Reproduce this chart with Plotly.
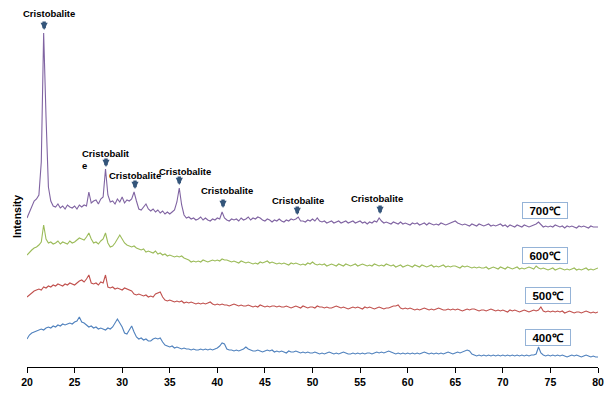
import numpy as np
import plotly.graph_objects as go

# 2-theta sampling grid (degrees), 0.25 deg step from 20 to 80
two_theta = [20 + 0.25 * i for i in range(241)]

# Intensities (arbitrary units, offset-stacked as in the picture), 4 values per degree
i700 = [
    149, 155, 160, 166,  168, 172, 205, 334,  250, 180, 166, 161,  160, 163, 159, 161,
    158, 162, 160, 159,  161, 158, 162, 160,  162, 161, 175, 164,  166, 167, 163, 168,
    170, 198, 172, 165,  166, 163, 168, 165,  170, 164, 167, 166,  168, 175, 166, 158,
    157, 160, 163, 158,  156, 158, 155, 157,  154, 156, 153, 155,  153, 155, 157, 165,
    179, 162, 152, 149,  150, 148, 149, 147,  148, 150, 147, 149,  147, 146, 148, 147,
    149, 148, 155, 149,  147, 146, 148, 147,  148, 146, 149, 147,  148, 150, 147, 149,
    148, 150, 149, 147,  146, 148, 147, 145,  147, 146, 148, 146,  145, 147, 146, 148,
    147, 148, 150, 146,  146, 145, 147, 146,  148, 146, 149, 146,  145, 146, 144, 145,
    146, 144, 145, 146,  144, 145, 146, 144,  145, 146, 144, 145,  146, 144, 145, 143,
    145, 144, 146, 145,  149, 146, 144, 145,  144, 143, 145, 144,  143, 145, 143, 144,
    143, 142, 144, 143,  144, 142, 143, 144,  142, 144, 143, 142,  143, 142, 144, 143,
    142, 143, 144, 145,  146, 144, 143, 142,  143, 142, 141, 143,  142, 141, 143, 142,
    141, 142, 143, 141,  142, 141, 142, 143,  141, 142, 140, 142,  141, 140, 142, 141,
    140, 142, 141, 140,  141, 142, 143, 145,  142, 140, 141, 140,  141, 140, 142, 141,
    140, 141, 139, 141,  140, 141, 140, 139,  141, 140, 141, 140,  139, 141, 140, 140,
    140,
]
i600 = [
    112, 115, 117, 119,  120, 122, 125, 142,  128, 124, 125, 123,  124, 126, 123, 125,
    124, 123, 126, 124,  125, 127, 129, 128,  127, 130, 134, 128,  124, 125, 123, 126,
    128, 134, 124, 120,  121, 124, 128, 132,  128, 124, 122, 121,  120, 121, 119, 118,
    117, 118, 115, 116,  115, 114, 116, 113,  114, 112, 113, 111,  112, 111, 110, 111,
    110, 111, 109, 108,  107, 105, 106, 105,  106, 105, 107, 106,  105, 106, 107, 106,
    107, 106, 108, 107,  107, 106, 105, 106,  105, 104, 106, 105,  104, 105, 104, 103,
    104, 103, 105, 104,  105, 106, 104, 105,  104, 103, 104, 103,  104, 103, 102, 104,
    103, 104, 103, 102,  103, 102, 104, 103,  105, 103, 102, 103,  102, 103, 101, 102,
    103, 102, 101, 103,  102, 101, 103, 102,  101, 102, 103, 101,  102, 103, 102, 101,
    102, 101, 103, 102,  101, 102, 101, 103,  102, 101, 102, 100,  101, 102, 100, 101,
    102, 101, 100, 102,  101, 100, 102, 101,  100, 101, 102, 100,  101, 100, 101, 102,
    100, 101, 100, 101,  101, 100, 99, 101,   100, 101, 100, 99,   100, 99, 100, 99,
    99, 100, 98, 99,     100, 99, 98, 100,    99, 98, 100, 99,     98, 99, 100, 98,
    99, 98, 99, 100,     99, 98, 101, 99,     98, 99, 98, 97,      98, 99, 97, 98,
    99, 98, 97, 98,      97, 98, 99, 97,      98, 97, 98, 99,      97, 98, 97, 98,
    99,
]
i500 = [
    70, 72, 74, 76,  77, 78, 77, 80,  79, 81, 80, 82,  81, 83, 82, 81,
    83, 82, 84, 83,  82, 84, 86, 87,  85, 88, 92, 84,  83, 84, 82, 85,
    84, 92, 80, 79,  80, 78, 79, 78,  77, 79, 78, 77,  76, 73, 72, 73,
    72, 71, 72, 70,  71, 70, 73, 74,  75, 70, 67, 66,  67, 66, 65, 66,
    65, 66, 64, 65,  64, 65, 64, 63,  64, 63, 64, 63,  64, 65, 63, 62,
    63, 62, 63, 62,  62, 61, 62, 63,  62, 61, 62, 61,  61, 62, 61, 60,
    61, 60, 62, 61,  60, 61, 60, 61,  61, 60, 61, 60,  60, 61, 60, 59,
    60, 61, 60, 59,  61, 60, 59, 60,  60, 59, 61, 60,  60, 59, 60, 59,
    59, 60, 61, 60,  59, 60, 59, 58,  59, 60, 59, 60,  59, 58, 60, 59,
    60, 59, 58, 59,  60, 59, 58, 59,  59, 60, 61, 61,  62, 59, 58, 59,
    58, 59, 58, 57,  58, 57, 58, 59,  58, 57, 58, 57,  58, 59, 58, 57,
    57, 58, 57, 58,  57, 58, 57, 56,  57, 58, 57, 58,  58, 57, 56, 57,
    57, 56, 57, 58,  57, 56, 57, 56,  57, 56, 55, 57,  56, 57, 56, 55,
    56, 57, 56, 55,  56, 57, 56, 57,  60, 56, 55, 56,  55, 56, 55, 56,
    55, 56, 54, 55,  56, 55, 54, 55,  55, 54, 55, 56,  55, 54, 55, 54,
    55,
]
i400 = [
    28, 32, 34, 35,  36, 37, 38, 37,  39, 40, 39, 41,  40, 42, 41, 43,
    42, 43, 44, 43,  45, 46, 50, 45,  44, 42, 40, 41,  39, 40, 38, 39,
    38, 37, 39, 38,  40, 44, 48, 44,  40, 34, 33, 37,  41, 35, 30, 28,
    29, 27, 28, 26,  26, 28, 29, 28,  29, 25, 22, 21,  20, 21, 19, 20,
    19, 18, 19, 18,  18, 17, 18, 17,  17, 18, 17, 18,  17, 18, 17, 18,
    19, 21, 24, 23,  18, 17, 17, 16,  17, 16, 17, 18,  20, 18, 17, 16,
    16, 17, 16, 15,  16, 17, 16, 17,  15, 16, 15, 16,  15, 14, 16, 15,
    15, 16, 15, 14,  15, 14, 15, 14,  14, 15, 14, 13,  14, 13, 14, 15,
    14, 13, 14, 13,  14, 15, 14, 13,  13, 14, 13, 14,  13, 14, 13, 14,
    14, 13, 14, 15,  14, 15, 14, 15,  16, 15, 14, 13,  14, 13, 14, 13,
    14, 13, 14, 13,  14, 13, 14, 15,  14, 13, 14, 13,  14, 13, 14, 13,
    14, 15, 14, 13,  14, 15, 14, 15,  16, 17, 16, 13,  12, 11, 12, 11,
    12, 11, 12, 11,  12, 11, 12, 11,  12, 11, 12, 11,  12, 11, 12, 11,
    12, 11, 12, 11,  12, 12, 13, 20,  14, 12, 11, 12,  11, 12, 11, 12,
    11, 12, 11, 10,  11, 12, 11, 12,  11, 10, 11, 12,  11, 10, 11, 10,
    10,
]

series_names = ["700℃", "600℃", "500℃", "400℃"]
series_values = [i700, i600, i500, i400]
series_colors = ["#8064A2", "#9BBB59", "#C0504D", "#4F81BD"]

# Peak markers: 2-theta of peak, arrow tip intensity, label text, label x, label y
peak_pos = [21.8, 28.3, 31.35, 36.0, 40.6, 48.4, 57.1]
peak_tip = [337, 200, 178, 182, 159, 152, 153]
peak_text = ["Cristobalite", "Cristobalit<br>e", "Cristobalite", "Cristobalite",
             "Cristobalite", "Cristobalite", "Cristobalite"]
label_x = [22.35, 28.3, 31.4, 36.65, 41.0, 48.5, 56.8]
label_y = [354, 208, 192, 196, 177, 167, 169]

# Temperature labels (x, y positions in data units)
temp_x = [74.46, 74.46, 74.73, 74.73]
temp_y = [157, 112, 71.5, 29.5]

x_ticks = [20, 25, 30, 35, 40, 45, 50, 55, 60, 65, 70, 75, 80]

fig = go.Figure()
for name, vals, col in zip(series_names, series_values, series_colors):
    fig.add_trace(go.Scatter(x=two_theta, y=vals, mode="lines", name=name,
                             line=dict(color=col, width=1.1), showlegend=False,
                             hoverinfo="skip"))

FONT = "Liberation Sans, Arial, sans-serif"
ann = []
lab_font = dict(family=FONT, size=9.5, color="#000000", weight="bold")
for px_, tip, txt, lx, ly in zip(peak_pos, peak_tip, peak_text, label_x, label_y):
    ann.append(dict(x=px_, y=tip, xref="x", yref="y", text="", showarrow=True,
                    ax=0, ay=-10, arrowhead=2, arrowsize=0.42, arrowwidth=3.4,
                    arrowcolor="#34557a"))
    ann.append(dict(x=lx, y=ly, xref="x", yref="y", text=txt, showarrow=False,
                    align="left", font=lab_font))

for name, tx, ty in zip(series_names, temp_x, temp_y):
    ann.append(dict(x=tx, y=ty, xref="x", yref="y", text=name, showarrow=False,
                    bgcolor="#ffffff", bordercolor="#95b3d7", borderwidth=1, borderpad=1,
                    width=42, height=13,
                    font=dict(family=FONT, size=11.5, color="#000000", weight="bold")))

ann.append(dict(x=0.5, y=-26, xref="paper", yref="y", text="2-theta",
                showarrow=False, xanchor="center", yanchor="middle",
                font=dict(family=FONT, size=10.5, color="#000000", weight="bold")))
ann.append(dict(x=-0.0175, y=150, xref="paper", yref="y", text="Intensity", textangle=-90,
                showarrow=False, xanchor="center", yanchor="middle",
                font=dict(family=FONT, size=10.5, color="#000000", weight="bold")))

fig.update_layout(
    width=614, height=401,
    margin=dict(l=27, r=16, t=10, b=34),
    paper_bgcolor="#ffffff", plot_bgcolor="#ffffff",
    annotations=ann,
    xaxis=dict(range=[20, 80], tickvals=x_ticks, ticktext=[str(t) for t in x_ticks],
               showline=True, linecolor="#000000", linewidth=1,
               ticks="outside", ticklen=5, tickcolor="#000000", tickwidth=1,
               showgrid=False, zeroline=False,
               tickfont=dict(family=FONT, size=10.5, color="#000000", weight="bold")),
    yaxis=dict(range=[0, 357], showticklabels=False, showgrid=False, zeroline=False,
               showline=False, ticks=""),
)
fig.write_html("out.html", config={"displayModeBar": False},
               post_script="document.body.style.margin='0px';document.body.style.overflow='hidden';")
